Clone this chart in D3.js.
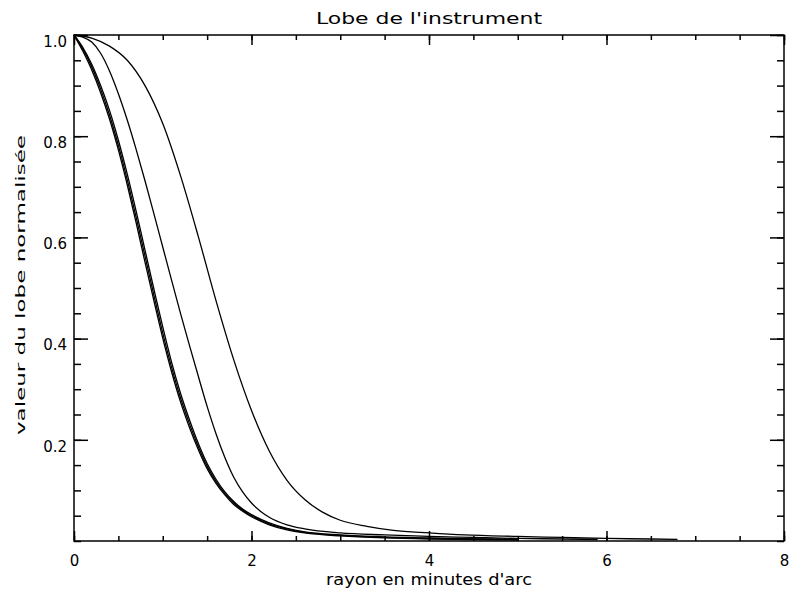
<!DOCTYPE html>
<html><head><meta charset="utf-8">
<script src="https://cdn.jsdelivr.net/npm/d3@7"></script>
<style>
html,body{margin:0;padding:0;background:#fff;}
text{font-family:"DejaVu Sans",sans-serif;fill:#000;}
</style></head>
<body><svg id="c" width="793" height="594"></svg>
<script>
// ---- data ----
const title = "Lobe de l'instrument";
const xLabel = "rayon en minutes d'arc";
const yLabel = "valeur du lobe normalisée";
const xTicks = [0, 2, 4, 6, 8];
const xTickLabels = ["0", "2", "4", "6", "8"];
const yTicks = [0.2, 0.4, 0.6, 0.8, 1.0];
const yTickLabels = ["0.2", "0.4", "0.6", "0.8", "1.0"];

// widest lobe
const rA = [0,0.2,0.4,0.6,0.8,1.0,1.2,1.4,1.6,1.8,2.0,2.2,2.4,2.6,2.8,3.0,3.3,3.6,4.0,4.4,5.0,5.5,6.0,6.5,6.8];
const vA = [1.000,0.994,0.978,0.950,0.900,0.825,0.722,0.602,0.475,0.358,0.258,0.178,0.120,0.082,0.057,0.041,0.029,0.021,0.016,0.012,0.009,0.007,0.005,0.004,0.003];
// middle lobe
const rB = [0,0.1,0.2,0.3,0.4,0.5,0.6,0.7,0.8,0.9,1.0,1.1,1.2,1.3,1.4,1.5,1.6,1.7,1.8,1.9,2.0,2.1,2.2,2.4,2.6,3.0,3.5,4.0,4.5,5.0,5.5,5.9];
const vB = [1.000,0.996,0.986,0.964,0.929,0.884,0.832,0.774,0.712,0.647,0.581,0.515,0.450,0.387,0.326,0.266,0.212,0.165,0.126,0.097,0.075,0.059,0.047,0.032,0.024,0.016,0.012,0.009,0.007,0.005,0.004,0.003];
// three narrow lobes (nearly superposed)
const rC = [0,0.1,0.2,0.3,0.4,0.5,0.6,0.7,0.8,0.9,1.0,1.1,1.2,1.3,1.4,1.5,1.6,1.7,1.8,1.9,2.0,2.2,2.4,2.6,3.0,3.5,4.0,4.5,5.0];
const vC1 = [1.000,0.968,0.931,0.886,0.834,0.773,0.704,0.629,0.551,0.475,0.401,0.334,0.275,0.225,0.181,0.143,0.114,0.091,0.072,0.059,0.048,0.032,0.022,0.016,0.010,0.006,0.004,0.003,0.002];
const vC2 = [1.000,0.972,0.937,0.893,0.842,0.782,0.714,0.640,0.563,0.486,0.411,0.343,0.283,0.232,0.187,0.148,0.118,0.094,0.075,0.061,0.050,0.034,0.024,0.017,0.011,0.007,0.005,0.004,0.003];
const vC3 = [1.000,0.975,0.942,0.900,0.851,0.792,0.725,0.652,0.575,0.498,0.423,0.353,0.292,0.240,0.193,0.153,0.122,0.097,0.078,0.063,0.052,0.036,0.025,0.018,0.012,0.008,0.006,0.004,0.003];

const series = [
  {r: rA, v: vA}, {r: rB, v: vB},
  {r: rC, v: vC1}, {r: rC, v: vC2}, {r: rC, v: vC3}
];

// ---- layout ----
const L = 74, R = 784, T = 35, B = 541;
const svg = d3.select("#c");
const x = d3.scaleLinear().domain([0, 8]).range([L, R]);
const y = d3.scaleLinear().domain([0, 1]).range([B, T]);

// frame
svg.append("rect").attr("x", L).attr("y", T).attr("width", R - L).attr("height", B - T)
  .attr("fill", "none").attr("stroke", "#000").attr("stroke-width", 1.5);

const xMinor = d3.range(0, 8.001, 0.5);
const yMinor = d3.range(0, 1.0001, 0.05);

function style(g) {
  g.select(".domain").remove();
  g.selectAll("line").attr("stroke", "#000").attr("stroke-width", 1.5);
  g.selectAll("text").style("font-size", "15px").attr("font-family", "DejaVu Sans, sans-serif");
}

// bottom axis: minor + major, labels
svg.append("g").attr("transform", `translate(0,${B})`)
  .call(d3.axisBottom(x).tickValues(xMinor).tickSizeInner(-5).tickSizeOuter(0).tickFormat(""))
  .call(style);
svg.append("g").attr("transform", `translate(0,${B})`)
  .call(d3.axisBottom(x).tickValues(xTicks).tickSizeInner(-10).tickSizeOuter(0).tickPadding(14)
    .tickFormat((d, i) => xTickLabels[i]))
  .call(style);
// top axis
svg.append("g").attr("transform", `translate(0,${T})`)
  .call(d3.axisTop(x).tickValues(xMinor).tickSizeInner(-5).tickSizeOuter(0).tickFormat(""))
  .call(style);
svg.append("g").attr("transform", `translate(0,${T})`)
  .call(d3.axisTop(x).tickValues(xTicks).tickSizeInner(-10).tickSizeOuter(0).tickFormat(""))
  .call(style);
// left axis
svg.append("g").attr("transform", `translate(${L},0)`)
  .call(d3.axisLeft(y).tickValues(yMinor).tickSizeInner(-7).tickSizeOuter(0).tickFormat(""))
  .call(style);
const ly = svg.append("g").attr("transform", `translate(${L},0)`)
  .call(d3.axisLeft(y).tickValues(yTicks).tickSizeInner(-14).tickSizeOuter(0).tickPadding(7)
    .tickFormat((d, i) => yTickLabels[i]))
  .call(style);
ly.selectAll("text").attr("dy", "0.75em").attr("y", 0);
// right axis
svg.append("g").attr("transform", `translate(${R},0)`)
  .call(d3.axisRight(y).tickValues(yMinor).tickSizeInner(-7).tickSizeOuter(0).tickFormat(""))
  .call(style);
svg.append("g").attr("transform", `translate(${R},0)`)
  .call(d3.axisRight(y).tickValues(yTicks).tickSizeInner(-14).tickSizeOuter(0).tickFormat(""))
  .call(style);

// curves
const line = d3.line().x(d => x(d[0])).y(d => y(d[1])).curve(d3.curveMonotoneX);
series.forEach(s => {
  svg.append("path").datum(s.r.map((r, i) => [r, s.v[i]]))
    .attr("d", line).attr("fill", "none").attr("stroke", "#000").attr("stroke-width", 1.3);
});

// titles
svg.append("text").attr("x", (L + R) / 2).attr("y", 24).attr("text-anchor", "middle")
  .style("font-size", "16px").attr("textLength", 226).attr("lengthAdjust", "spacingAndGlyphs").text(title);
svg.append("text").attr("x", (L + R) / 2).attr("y", 585).attr("text-anchor", "middle")
  .style("font-size", "15px").attr("textLength", 206).attr("lengthAdjust", "spacingAndGlyphs").text(xLabel);
svg.append("text").attr("transform", `translate(25,${(T + B) / 2 - 3}) rotate(-90)`).attr("text-anchor", "middle")
  .style("font-size", "13px").attr("textLength", 300).attr("lengthAdjust", "spacingAndGlyphs").text(yLabel);
</script>
</body></html>
